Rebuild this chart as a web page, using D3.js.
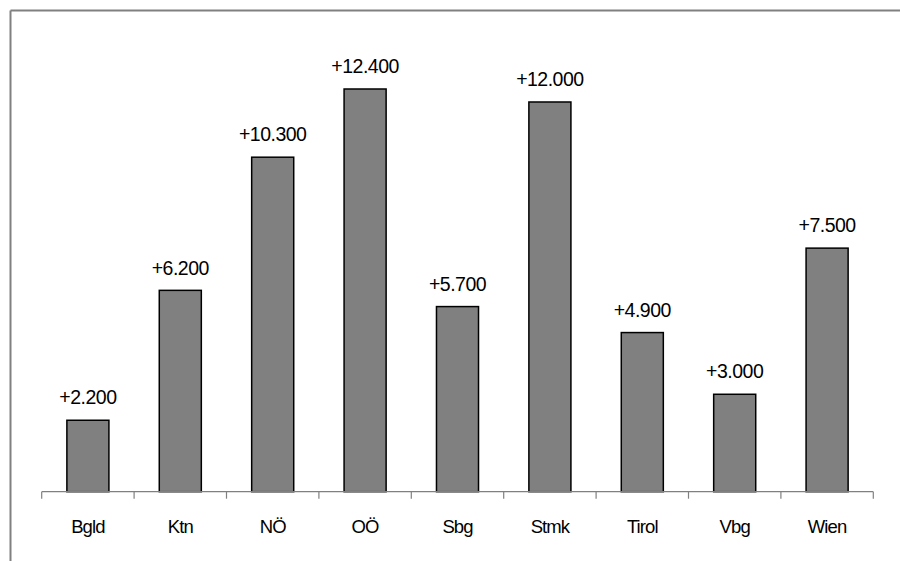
<!DOCTYPE html>
<html>
<head>
<meta charset="utf-8">
<script src="https://cdn.jsdelivr.net/npm/d3@7"></script>
<style>
  html, body { margin: 0; padding: 0; background: #fff; }
  svg { display: block; font-family: Arial, "Liberation Sans", sans-serif; }
</style>
</head>
<body>
<svg id="chart" width="900" height="561"></svg>
<script>
// Bundesländer and their change values
const categories = ["Bgld", "Ktn", "NÖ", "OÖ", "Sbg", "Stmk", "Tirol", "Vbg", "Wien"];
const values = [2200, 6200, 10300, 12400, 5700, 12000, 4900, 3000, 7500];

const svg = d3.select("#chart");
const W = 900, H = 561;

// outer frame: top and left edges
svg.append("line").attr("x1", 10.5).attr("x2", W).attr("y1", 10.5).attr("y2", 10.5)
  .attr("stroke", "#808080").attr("stroke-width", 2);
svg.append("line").attr("x1", 10.5).attr("x2", 10.5).attr("y1", 10.5).attr("y2", H)
  .attr("stroke", "#808080").attr("stroke-width", 2);

const x0 = 41.7, x1 = 873.3, baseY = 491.7;

const x = d3.scaleBand().domain(categories).range([x0, x1]).paddingInner(0.545).paddingOuter(0.2725);
const y = d3.scaleLinear().domain([0, 12400]).range([baseY, 89]);

const fmt = v => "+" + d3.format(",.0f")(v).replace(/,/g, ".");

// bars
svg.append("g").selectAll("rect").data(values).join("rect")
  .attr("x", (d, i) => x(categories[i]))
  .attr("width", x.bandwidth())
  .attr("y", d => y(d))
  .attr("height", d => baseY - y(d))
  .attr("fill", "#808080")
  .attr("stroke", "#000")
  .attr("stroke-width", 1.5);

// value labels
svg.append("g").selectAll("text").data(values).join("text")
  .attr("x", (d, i) => x(categories[i]) + x.bandwidth() / 2)
  .attr("y", d => y(d) - 15.8)
  .attr("text-anchor", "middle")
  .attr("font-size", 19.5)
  .attr("letter-spacing", -0.5)
  .attr("fill", "#000")
  .text(d => fmt(d));

// category axis with ticks at band boundaries
const axisG = svg.append("g");
axisG.append("line").attr("x1", x0).attr("x2", x1).attr("y1", baseY).attr("y2", baseY)
  .attr("stroke", "#808080").attr("stroke-width", 1.2);
const step = (x1 - x0) / categories.length;
axisG.selectAll("line.tick").data(d3.range(categories.length + 1)).join("line")
  .attr("class", "tick")
  .attr("x1", i => x0 + i * step).attr("x2", i => x0 + i * step)
  .attr("y1", baseY).attr("y2", baseY + 7)
  .attr("stroke", "#808080").attr("stroke-width", 1.2);

axisG.selectAll("text").data(categories).join("text")
  .attr("x", d => x(d) + x.bandwidth() / 2)
  .attr("y", 532.7)
  .attr("text-anchor", "middle")
  .attr("font-size", 18.5)
  .attr("letter-spacing", -0.9)
  .attr("fill", "#000")
  .text(d => d);
</script>
</body>
</html>
